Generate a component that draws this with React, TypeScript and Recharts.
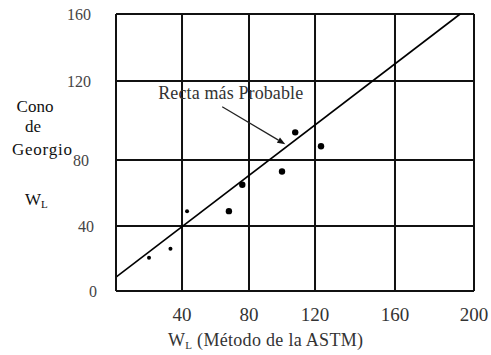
import React from 'react';
import {
  ScatterChart, Scatter, XAxis, YAxis, CartesianGrid, ReferenceLine,
} from 'recharts';

// values
const xTicks = [0, 40, 80, 120, 160, 200];
const yTicks = [0, 40, 80, 120, 160];
const wlAstm = [20, 33, 43, 68, 76, 100, 108, 123];
const wlCono = [20.5, 26, 49, 49, 65, 73, 94, 87];
const fitX = [0, 193];
const fitY = [8.6, 160];
const arrowX = [64, 102];
const arrowY = [107, 88];

// the scanned grid is not evenly spaced: where each tick sits along the axis (0..1)
const X_GRID = [0, 0.1844, 0.3715, 0.5559, 0.7793, 1];
const Y_GRID = [0, 0.2347, 0.4729, 0.7581, 1];
const Y_TICK_DX = [6, 3, -2, 0, 0];
const SMALL_DOTS = 3;

const SERIF = 'Liberation Serif, Times New Roman, serif';

function warp(v: number, ticks: number[], grid: number[]) {
  let i = 0;
  while (i < ticks.length - 2 && v > ticks[i + 1]) i++;
  const t = (v - ticks[i]) / (ticks[i + 1] - ticks[i]);
  return grid[i] + t * (grid[i + 1] - grid[i]);
}
const wx = (v: number) => warp(v, xTicks, X_GRID);
const wy = (v: number) => warp(v, yTicks, Y_GRID);

const points = wlAstm.map((x, i) => ({ x: wx(x), y: wy(wlCono[i]), small: i < SMALL_DOTS }));

const Dot = (p: any) => (
  <circle cx={p.cx} cy={p.cy} r={p.payload.small ? 2 : 3.2} fill="#000" />
);

const Arrow = (p: any) => {
  const { x1, y1, x2, y2 } = p;
  const a = Math.atan2(y2 - y1, x2 - x1);
  const L = 8, W = 3;
  const bx = x2 - L * Math.cos(a), by = y2 - L * Math.sin(a);
  const head = `${x2},${y2} ${bx + W * Math.sin(a)},${by - W * Math.cos(a)} ${bx - W * Math.sin(a)},${by + W * Math.cos(a)}`;
  return (
    <g>
      <line x1={x1} y1={y1} x2={bx} y2={by} stroke="#222" strokeWidth={1.2} />
      <polygon points={head} fill="#111" />
      <text x={x1 - 64} y={y1 - 8} fontFamily={SERIF} fontSize={18} fill="#333"
        textLength={145} lengthAdjust="spacing">
        Recta más Probable
      </text>
    </g>
  );
};

const YTick = (p: any) => (
  <text x={p.x + Y_TICK_DX[p.index]} y={p.y} dy="0.35em" textAnchor="end"
    fontFamily={SERIF} fontSize={16} fill="#444">
    {yTicks[p.index]}
  </text>
);

const YTitle = () => (
  <g fontFamily={SERIF} fontSize={17} fill="#111">
    <text x={35} y={112} textAnchor="middle">Cono</text>
    <text x={33} y={132} textAnchor="middle">de</text>
    <text x={42} y={155} textAnchor="middle" textLength={60} lengthAdjust="spacing">Georgio</text>
    <text x={25} y={205}>W<tspan fontSize={11} dy={3}>L</tspan></text>
  </g>
);

export default function App() {
  return (
    <div style={{ position: 'absolute', left: 0, top: 0, background: '#fff' }}>
      <ScatterChart width={491} height={355} margin={{ top: 14, right: 17, left: 0, bottom: 0 }}>
        <CartesianGrid stroke="#111" strokeWidth={2} />
        <XAxis
          type="number" dataKey="x" domain={[0, 1]} ticks={X_GRID}
          tickFormatter={(_v: number, i: number) => (i === 0 ? '' : String(xTicks[i]))}
          tick={{ fill: '#333', fontSize: 19, fontFamily: SERIF }} tickSize={0} tickMargin={17} height={64}
          axisLine={{ stroke: '#111', strokeWidth: 2 }} interval={0}
          label={{
            content: () => (
              <text x={168} y={346} fontFamily={SERIF} fontSize={18} fill="#333"
                textLength={195} lengthAdjust="spacing">
                W<tspan fontSize={11} dy={3}>L</tspan><tspan dy={-3}> (Método de la ASTM)</tspan>
              </text>
            ),
          }}
        />
        <YAxis
          type="number" dataKey="y" domain={[0, 1]} ticks={Y_GRID}
          tick={<YTick />} tickSize={0} tickMargin={25} width={116}
          axisLine={{ stroke: '#111', strokeWidth: 2 }} interval={0}
          label={{ content: () => <YTitle /> }}
        />
        <ReferenceLine
          segment={[{ x: wx(fitX[0]), y: wy(fitY[0]) }, { x: wx(fitX[1]), y: wy(fitY[1]) }]}
          stroke="#000" strokeWidth={1.6}
        />
        <ReferenceLine
          segment={[{ x: wx(arrowX[0]), y: wy(arrowY[0]) }, { x: wx(arrowX[1]), y: wy(arrowY[1]) }]}
          shape={Arrow}
        />
        <Scatter data={points} shape={Dot} isAnimationActive={false} />
      </ScatterChart>
    </div>
  );
}
